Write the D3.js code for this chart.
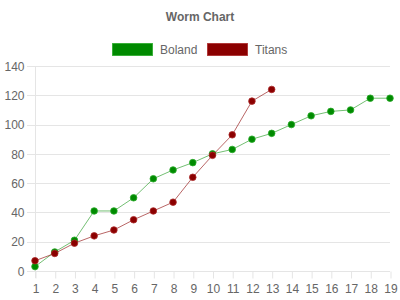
<!DOCTYPE html>
<html>
<head>
<meta charset="utf-8">
<script src="https://cdnjs.cloudflare.com/ajax/libs/d3/7.8.5/d3.min.js"></script>
<style>
  html, body { margin: 0; padding: 0; background: #fff; }
  svg text { font-family: "Liberation Sans", Arial, sans-serif; fill: #666; }
</style>
</head>
<body>
<div id="chart"></div>
<script>
// overs and cumulative runs
var overs = d3.range(1, 20);
var boland = [3, 13, 21, 41, 41, 50, 63, 69, 74, 80, 83, 90, 94, 100, 106, 109, 110, 118, 118];
var titans = [7, 12, 19, 24, 28, 35, 41, 47, 64, 79, 93, 116, 124];
var yTicks = [0, 20, 40, 60, 80, 100, 120, 140];

var series = [
  { name: "Boland", values: boland, fill: "#008a00", line: "rgba(0,138,0,0.55)", edge: "rgba(40,170,40,0.8)" },
  { name: "Titans", values: titans, fill: "#8b0000", line: "rgba(139,0,0,0.6)", edge: "rgba(170,40,40,0.8)" }
];

var width = 400, height = 300;

var svg = d3.select("#chart")
  .append("svg")
    .attr("width", width)
    .attr("height", height);

var x = d3.scalePoint()
  .domain(overs)
  .range([35, 390]);

var y = d3.scaleLinear()
  .domain([0, 140])
  .range([271, 66]);

// title
svg.append("text")
  .attr("x", 200)
  .attr("y", 21)
  .attr("text-anchor", "middle")
  .style("font-size", "12px")
  .style("font-weight", "bold")
  .text("Worm Chart");

// legend
var legend = svg.append("g");
var lx = [112, 207];
series.forEach(function(s, i) {
  legend.append("rect")
    .attr("x", lx[i] + 0.5)
    .attr("y", 43.5)
    .attr("width", 40)
    .attr("height", 12)
    .attr("fill", s.fill)
    .attr("stroke", s.edge)
    .attr("stroke-width", 1);
  legend.append("text")
    .attr("x", lx[i] + 48)
    .attr("y", 54)
    .style("font-size", "12px")
    .text(s.name);
});

// horizontal grid lines
svg.append("g")
  .selectAll("line")
  .data(yTicks)
  .enter()
  .append("line")
    .attr("x1", 27)
    .attr("x2", 390)
    .attr("y1", function(d) { return Math.round(y(d)) + 0.5; })
    .attr("y2", function(d) { return Math.round(y(d)) + 0.5; })
    .attr("stroke", "#e5e5e5");

// y axis
var yAxis = svg.append("g")
  .attr("transform", "translate(35.5,0)")
  .call(d3.axisLeft(y).tickValues(yTicks).tickSize(0).tickPadding(11));
yAxis.select(".domain").attr("stroke", "#e5e5e5").attr("d", "M0,66V278");
yAxis.selectAll("text").style("font-size", "12px").style("fill", "#666").attr("dy", "0.35em");

// x axis
var xAxis = svg.append("g")
  .attr("transform", "translate(0.5," + (Math.round(y(0)) + 0.5) + ")")
  .call(d3.axisBottom(x).tickSize(7).tickPadding(6));
xAxis.select(".domain").remove();
xAxis.selectAll("line").attr("stroke", "#e5e5e5");
xAxis.selectAll("text").style("font-size", "12px").style("fill", "#666");

// lines and points
var line = d3.line()
  .x(function(d, i) { return x(overs[i]); })
  .y(function(d) { return y(d); });

series.forEach(function(s) {
  svg.append("path")
    .datum(s.values)
    .attr("fill", "none")
    .attr("stroke", s.line)
    .attr("stroke-width", 1)
    .attr("d", line);

  svg.append("g")
    .selectAll("circle")
    .data(s.values)
    .enter()
    .append("circle")
      .attr("cx", function(d, i) { return x(overs[i]); })
      .attr("cy", function(d) { return y(d); })
      .attr("r", 3.3)
      .attr("fill", s.fill)
      .attr("stroke", s.edge)
      .attr("stroke-width", 1);
});
</script>
</body>
</html>
